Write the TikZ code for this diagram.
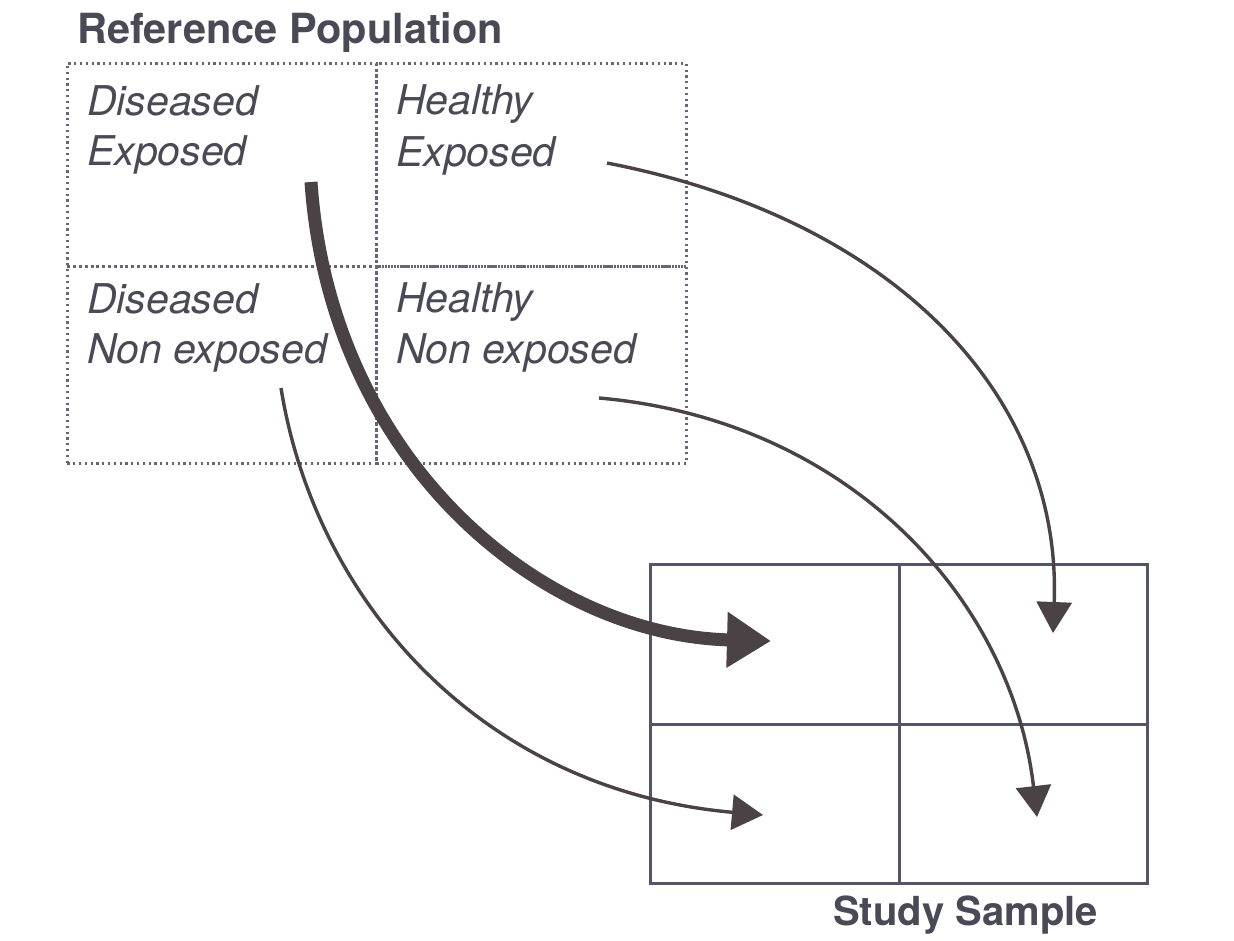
\documentclass[tikz,border=0pt]{standalone}
\usepackage{fontspec}
\setmainfont{TeX Gyre Heros}
\usetikzlibrary{arrows.meta}
\definecolor{txt}{HTML}{4A4A56}
\definecolor{boxline}{HTML}{55556A}
\definecolor{arr}{HTML}{4A4244}
\definecolor{dotc}{HTML}{66667A}
\begin{document}
\begin{tikzpicture}[x=1pt,y=-1pt,
  dotcell/.style={draw=dotc, line width=2.6pt, dash pattern=on 2.2pt off 3.6pt, anchor=north west, inner sep=0pt},
  samplecell/.style={draw=boxline, line width=2.8pt, anchor=north west, inner sep=0pt},
  lbl/.style={anchor=base west, inner sep=0pt, text=txt, font=\fontsize{41pt}{50pt}\selectfont\itshape},
  ttl/.style={anchor=base west, inner sep=0pt, text=txt, font=\fontsize{40pt}{48pt}\selectfont\bfseries},
  thinarrow/.style={draw=arr, line width=3.4pt, -{Triangle[length=31pt,width=35pt]}},
  thickarrow/.style={draw=arr, line width=13pt, -{Triangle[length=44pt,width=53pt]}}
]
\useasboundingbox[fill=white] (0,0) rectangle (1234,940);

% Reference population grid
\node[dotcell, minimum width=309pt, minimum height=203pt] (de) at (66,62) {};
\node[dotcell, minimum width=310pt, minimum height=203pt] (he) at (375,62) {};
\node[dotcell, minimum width=309pt, minimum height=197pt] (dn) at (66,265) {};
\node[dotcell, minimum width=310pt, minimum height=197pt] (hn) at (375,265) {};

\node[ttl, font=\fontsize{41.5pt}{48pt}\selectfont\bfseries] (reftitle) at (77,43) {Reference Population};

\node[lbl] (de1) at (87,115) {Diseased};
\node[lbl] (de2) at (87,165) {Exposed};
\node[lbl] (he1) at (396,114) {Healthy};
\node[lbl] (he2) at (396,166) {Exposed};
\node[lbl] (dn1) at (87,313) {Diseased};
\node[lbl] (dn2) at (87,363) {Non exposed};
\node[lbl] (hn1) at (396,312) {Healthy};
\node[lbl] (hn2) at (396,363) {Non exposed};

% Study sample grid
\node[samplecell, minimum width=249pt, minimum height=160pt] (s11) at (649,563) {};
\node[samplecell, minimum width=248pt, minimum height=160pt] (s12) at (898,563) {};
\node[samplecell, minimum width=249pt, minimum height=159pt] (s21) at (649,723) {};
\node[samplecell, minimum width=248pt, minimum height=159pt] (s22) at (898,723) {};

\node[ttl] (samtitle) at (833,925) {Study Sample};

% arrow end points
\coordinate (aDE) at (311,182);
\coordinate (tDE) at (771,641);
\coordinate (aHE) at (607,163);
\coordinate (tHE) at (1053,633);
\coordinate (aHN) at (599,398);
\coordinate (tHN) at (1037,817);
\coordinate (aDN) at (281,388);
\coordinate (tDN) at (763,815);

\draw[thinarrow] (aHE) .. controls (900,220) and (1062,400) .. (tHE);
\draw[thinarrow] (aHN) .. controls (850,420) and (1012,600) .. (tHN);
\draw[thinarrow] (aDN) .. controls (315,600) and (480,790) .. (tDN);
\draw[thickarrow] (aDE) .. controls (330,460) and (540,635) .. (tDE);
\end{tikzpicture}
\end{document}
